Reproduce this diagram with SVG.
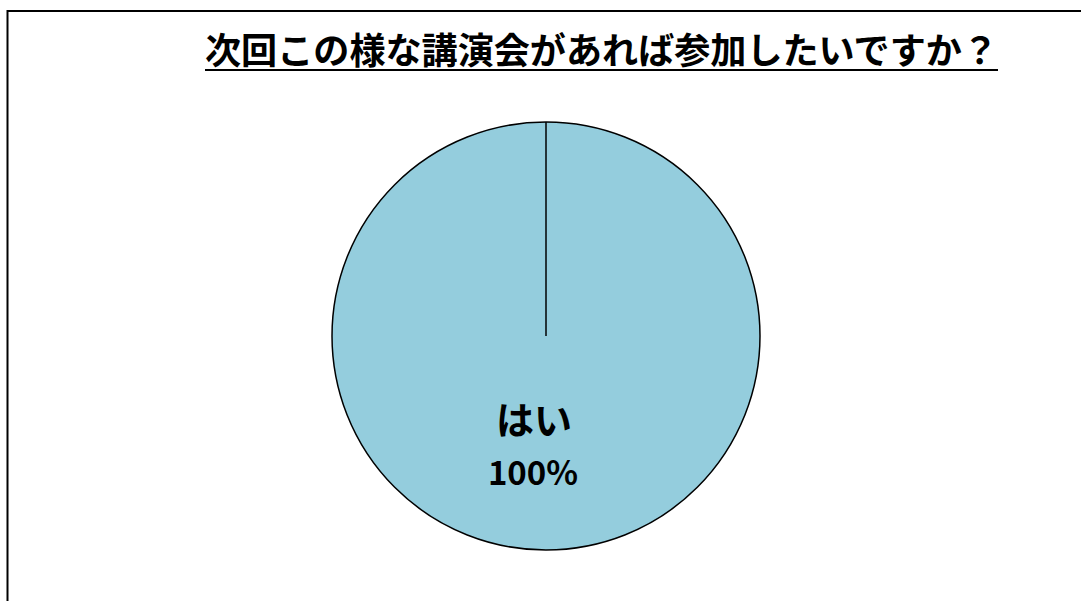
<svg xmlns="http://www.w3.org/2000/svg" width="1081" height="601" viewBox="0 0 1081 601">
<style>
.t{font-family:"Noto Sans CJK JP","Liberation Sans",sans-serif;fill:#000}
</style>
<rect width="1081" height="601" fill="#fff"/>
<rect x="7.5" y="11" width="1090" height="610" fill="none" stroke="#000" stroke-width="2"/>
<g id="title">
<text class="t" x="205" y="64" font-size="36" font-weight="bold" textLength="793" lengthAdjust="spacingAndGlyphs">次回この様な講演会があれば参加したいですか？</text>
<line x1="205" y1="70" x2="998" y2="70" stroke="#000" stroke-width="2"/>
</g>
<g id="pie">
<circle cx="546" cy="336" r="214" fill="#94CDDD" stroke="#000" stroke-width="1.5"/>
<line x1="546" y1="122" x2="546" y2="336" stroke="#000" stroke-width="1.5"/>
</g>
<g id="label">
<text class="t" x="534" y="434" font-size="38" font-weight="bold" text-anchor="middle">はい</text>
<text class="t" x="533" y="485" font-size="33" font-weight="bold" text-anchor="middle">100%</text>
</g>
</svg>
